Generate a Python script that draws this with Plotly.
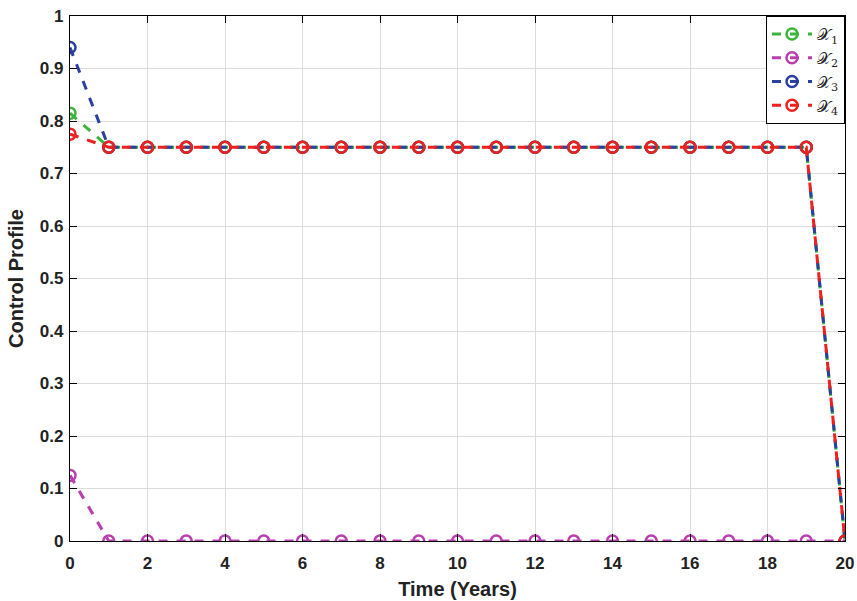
import plotly.graph_objects as go

time = list(range(0, 21))
x1 = [0.815] + [0.75] * 19 + [0.0]
x2 = [0.125] + [0.0] * 20
x3 = [0.94] + [0.75] * 19 + [0.0]
x4 = [0.775] + [0.75] * 19 + [0.0]

series = [
    ("𝒳<sub>1</sub>", x1, "#3cb43c"),
    ("𝒳<sub>2</sub>", x2, "#b83fae"),
    ("𝒳<sub>3</sub>", x3, "#2b3fa0"),
    ("𝒳<sub>4</sub>", x4, "#f0201e"),
]

fig = go.Figure()
for name, ys, col in series:
    fig.add_trace(go.Scatter(
        x=time, y=ys, name=name, mode="lines+markers",
        line=dict(color=col, width=3, dash="dash"),
        marker=dict(symbol="circle-open", size=11, color=col, line=dict(width=2.5, color=col)),
    ))

axis_common = dict(
    showline=True, linecolor="black", linewidth=1.2, mirror="ticks",
    ticks="inside", ticklen=7, tickcolor="black",
    showgrid=True, gridcolor="#dcdcdc", gridwidth=1,
    zeroline=False, automargin=False, ticklabeloverflow="allow",
    tickfont=dict(family="Liberation Sans, Arial", size=17, color="#222", weight="bold"),
)

fig.update_layout(
    width=857, height=601,
    margin=dict(l=70, r=12, t=16, b=60),
    plot_bgcolor="white", paper_bgcolor="white",
    font=dict(family="Liberation Sans, Arial", color="#222"),
    xaxis=dict(range=[0, 20], dtick=2, ticklabelstandoff=6, **axis_common,
               title=dict(text="Time (Years)", font=dict(size=20, weight="bold"), standoff=10)),
    yaxis=dict(range=[0, 1], dtick=0.1, tickformat="~g", ticklabelstandoff=2, **axis_common,
               title=dict(text="Control Profile", font=dict(size=20, weight="bold"), standoff=10)),
    legend=dict(x=1.0, y=1.0, xanchor="right", yanchor="top",
                bgcolor="white", bordercolor="black", borderwidth=1,
                font=dict(family="DejaVu Serif", size=16, color="#222"),
                itemwidth=40, tracegroupgap=0),
    showlegend=True,
)

fig.write_html("out.html", config={"displayModeBar": False},
               post_script="document.body.style.margin='0';document.body.style.overflow='hidden';")
